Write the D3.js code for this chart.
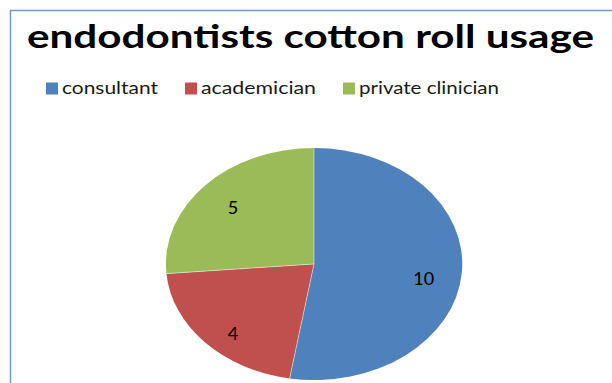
<!DOCTYPE html>
<html>
<head>
<meta charset="utf-8">
<script src="https://cdn.jsdelivr.net/npm/d3@7"></script>
<style>
html,body{margin:0;padding:0;background:#fff;}
svg{display:block;}
</style>
</head>
<body>
<svg id="chart" width="612" height="383"></svg>
<script>
const title = "endodontists cotton roll usage";
const categories = ["consultant", "academician", "private clinician"];
const values = [10, 4, 5];
const colors = ["#4F81BD", "#C0504D", "#9BBB59"];

const svg = d3.select("#chart");
const FONT = "Lato, 'Open Sans', 'Liberation Sans', sans-serif";

// frame (extends beyond the photo on right/bottom)
svg.append("rect")
  .attr("x", 10.5).attr("y", 10.5)
  .attr("width", 700).attr("height", 500)
  .attr("fill", "none")
  .attr("stroke", "#6f98cf")
  .attr("stroke-width", 1.5);

// title
svg.append("text")
  .attr("x", 27).attr("y", 48)
  .attr("font-family", FONT)
  .attr("font-weight", "bold")
  .attr("font-size", 32)
  .attr("fill", "#000")
  .attr("textLength", 567)
  .attr("lengthAdjust", "spacingAndGlyphs")
  .text(title);

// legend
const legendX = [46, 185, 343];
const legendW = [96, 115, 140];
const lg = svg.append("g");
categories.forEach((c, i) => {
  lg.append("rect")
    .attr("x", legendX[i]).attr("y", 82.5)
    .attr("width", 12).attr("height", 12)
    .attr("fill", colors[i]);
  lg.append("text")
    .attr("x", legendX[i] + 16).attr("y", 94)
    .attr("font-family", FONT)
    .attr("font-size", 17)
    .attr("fill", "#1a1a1a")
    .attr("textLength", legendW[i])
    .attr("lengthAdjust", "spacingAndGlyphs")
    .text(c);
});

// pie (elliptical, as in reference)
const cx = 314, cy = 264, rx = 148, ry = 116;
const pie = d3.pie().sort(null).value(d => d)(values);
const arc = d3.arc().innerRadius(0).outerRadius(1);
const pg = svg.append("g").attr("transform", `translate(${cx},${cy})`);
pg.selectAll("path")
  .data(pie)
  .join("path")
  .attr("transform", `scale(${rx},${ry})`)
  .attr("d", arc)
  .attr("fill", (d, i) => colors[i]);

// separators
pg.selectAll("line.sep")
  .data(pie)
  .join("line")
  .attr("class", "sep")
  .attr("x1", 0).attr("y1", 0)
  .attr("x2", d => Math.sin(d.startAngle) * rx)
  .attr("y2", d => -Math.cos(d.startAngle) * ry)
  .attr("stroke", "#fff")
  .attr("stroke-width", 0.8)
  .attr("stroke-opacity", 0.6);

// data labels
const labelArc = d3.arc().innerRadius(0.8).outerRadius(0.8);
pg.selectAll("text.lab")
  .data(pie)
  .join("text")
  .attr("class", "lab")
  .attr("x", d => labelArc.centroid(d)[0] * rx * 0.93)
  .attr("y", d => labelArc.centroid(d)[1] * ry + 6)
  .attr("text-anchor", "middle")
  .attr("dominant-baseline", "central")
  .attr("font-family", FONT)
  .attr("font-size", 18)
  .attr("fill", "#000")
  .text(d => d.data);
</script>
</body>
</html>
